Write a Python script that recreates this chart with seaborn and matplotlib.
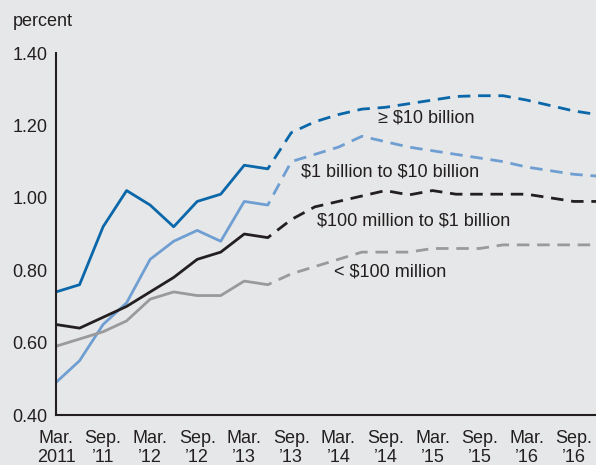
import numpy as np
import pandas as pd
import matplotlib
matplotlib.use("Agg")
import matplotlib.pyplot as plt
import seaborn as sns

# quarterly observations, Mar 2011 .. Jun 2013 (actual)
quarters_actual = list(range(0, 10))
big_actual = [0.74, 0.76, 0.92, 1.02, 0.98, 0.92, 0.99, 1.01, 1.09, 1.08]
mid_actual = [0.49, 0.55, 0.65, 0.71, 0.83, 0.88, 0.91, 0.88, 0.99, 0.98]
small_actual = [0.65, 0.64, 0.67, 0.70, 0.74, 0.78, 0.83, 0.85, 0.90, 0.89]
tiny_actual = [0.59, 0.61, 0.63, 0.66, 0.72, 0.74, 0.73, 0.73, 0.77, 0.76]

# projections, Jun 2013 .. Dec 2016
quarters_proj = list(range(9, 24))
big_proj = [1.08, 1.18, 1.21, 1.23, 1.245, 1.25, 1.26, 1.27, 1.28, 1.282, 1.282, 1.27, 1.255, 1.24, 1.23]
mid_proj = [0.98, 1.10, 1.12, 1.14, 1.17, 1.155, 1.14, 1.13, 1.12, 1.11, 1.10, 1.085, 1.075, 1.065, 1.06]
small_proj = [0.89, 0.94, 0.975, 0.99, 1.005, 1.02, 1.008, 1.02, 1.01, 1.01, 1.01, 1.01, 1.0, 0.99, 0.99]
tiny_proj = [0.76, 0.79, 0.81, 0.83, 0.85, 0.85, 0.85, 0.86, 0.86, 0.86, 0.87, 0.87, 0.87, 0.87, 0.87]

series_names = ["≥ \\$10 billion", "\\$1 billion to \\$10 billion", "\\$100 million to \\$1 billion", "< \\$100 million"]
colors = ["#0a67a9", "#6f9fd2", "#231f20", "#9a9a9a"]

tick_labels = ["Mar.\n2011", "Sep.\n’11", "Mar.\n’12", "Sep.\n’12", "Mar.\n’13", "Sep.\n’13",
               "Mar.\n’14", "Sep.\n’14", "Mar.\n’15", "Sep.\n’15", "Mar.\n’16", "Sep.\n’16"]

actual = [big_actual, mid_actual, small_actual, tiny_actual]
proj = [big_proj, mid_proj, small_proj, tiny_proj]

rows = []
for name, a, p in zip(series_names, actual, proj):
    for q, v in zip(quarters_actual, a):
        rows.append({"q": q, "value": v, "series": name, "kind": "actual"})
    for q, v in zip(quarters_proj, p):
        rows.append({"q": q, "value": v, "series": name, "kind": "proj"})
df = pd.DataFrame(rows)

sns.set_style("white")
plt.rcParams['font.family'] = ['Liberation Sans', 'DejaVu Sans']
bg = "#e6e7e8"
fs = 13

fig = plt.figure(figsize=(5.96, 4.65), dpi=100, facecolor=bg)
ax = fig.add_axes([0.094, 0.1075, 0.906, 0.7785])
ax.set_facecolor(bg)

for name, c in zip(series_names, colors):
    d = df[df.series == name]
    sns.lineplot(data=d[d.kind == "actual"], x="q", y="value", color=c, lw=2, ax=ax)
    sns.lineplot(data=d[d.kind == "proj"], x="q", y="value", color=c, lw=2, ax=ax,
                 linestyle=(3.0, (4.5, 2.8)))

ax.set_xlim(0, 22.95)
ax.set_ylim(0.40, 1.40)
ax.set_xticks(range(0, 24, 2))
ax.set_xticklabels(tick_labels, fontsize=fs, linespacing=1.15)
ax.set_yticks(np.arange(0.40, 1.41, 0.20))
ax.set_yticklabels([f"{v:.2f}" for v in np.arange(0.40, 1.41, 0.20)], fontsize=fs)
ax.tick_params(axis="both", direction="in", length=6, width=1.3, color="#231f20", labelcolor="#231f20")
ax.tick_params(axis="x", pad=11)
ax.tick_params(axis="y", pad=6)
ax.set_xlabel("")
ax.set_ylabel("")
for s in ["top", "right"]:
    ax.spines[s].set_visible(False)
for s in ["left", "bottom"]:
    ax.spines[s].set_linewidth(1.5)
    ax.spines[s].set_color("#231f20")

fig.text(13 / 596, 1 - 21 / 465, "percent", fontsize=fs, color="#231f20", va="center", ha="left")

# series labels
ax.text(15.75, 1.22, series_names[0], fontsize=fs, color="#231f20", ha="center", va="center")
ax.text(14.2, 1.07, series_names[1], fontsize=fs, color="#231f20", ha="center", va="center")
ax.text(15.2, 0.935, series_names[2], fontsize=fs, color="#231f20", ha="center", va="center")
ax.text(14.2, 0.795, series_names[3], fontsize=fs, color="#231f20", ha="center", va="center")

fig.savefig("out.png", dpi=100, facecolor=bg)
